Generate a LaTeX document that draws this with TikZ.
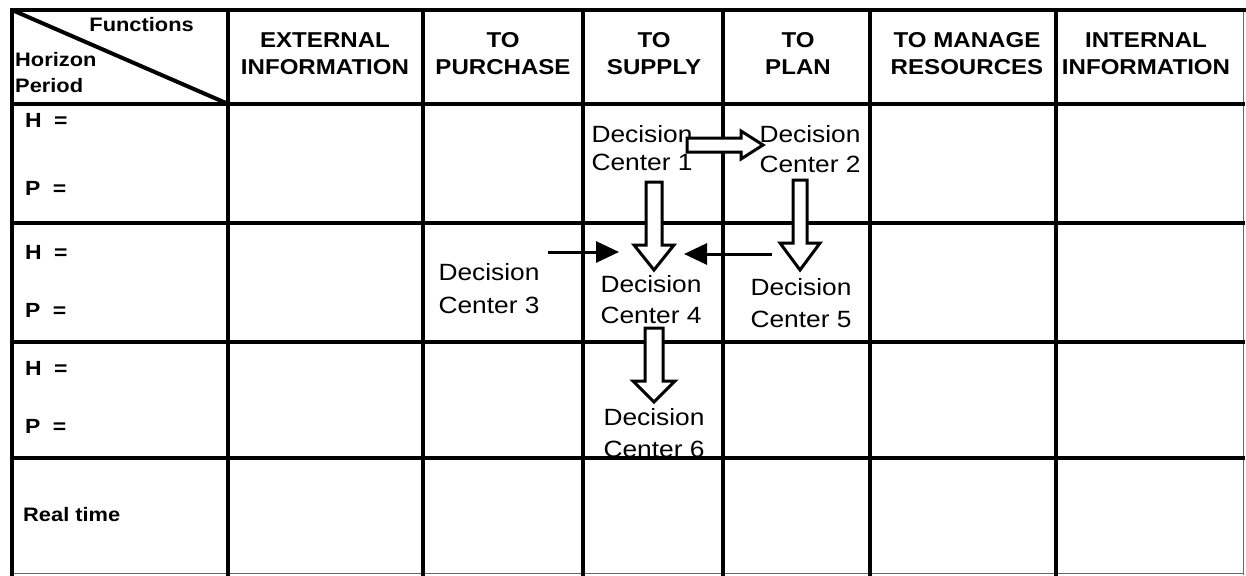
\documentclass[tikz,border=0pt]{standalone}
\usepackage{fontspec}
\setmainfont{Liberation Sans}[FakeStretch=1.12]
\usetikzlibrary{calc,arrows.meta}

% outlined block arrow from #1 to #2: shaft half-width #3, head half-width #4, head length #5
\newcommand\hollowarrow[5]{%
  \coordinate (hb) at ($(#2)!#5!(#1)$);
  \draw[hollow] ($(#1)!#3!90:(#2)$) -- ($(hb)!#3!90:(#2)$) -- ($(hb)!#4!90:(#2)$) -- (#2)
    -- ($(hb)!#4!-90:(#2)$) -- ($(hb)!#3!-90:(#2)$) -- ($(#1)!#3!-90:(#2)$) -- cycle;
}

\begin{document}
\begin{tikzpicture}[x=1pt,y=-1pt,
  rule/.style={line width=3.6pt,line cap=rect},
  thinrule/.style={line width=1pt,black!60},
  hollow/.style={draw=black,fill=white,line width=3pt},
  solidarrow/.style={line width=3pt,-{Triangle[length=23pt,width=21pt]}},
  head/.style={font=\bfseries\fontsize{21.5}{27}\selectfont,align=center,anchor=base,inner sep=0pt},
  corner/.style={font=\bfseries\fontsize{19.5}{26}\selectfont,anchor=base west,inner sep=0pt},
  rowlab/.style={font=\bfseries\fontsize{20.5}{22}\selectfont,anchor=base west,inner sep=0pt},
  dc/.style={font=\fontsize{23.5}{31}\selectfont,align=center,anchor=base,inner sep=0pt}]

\useasboundingbox (0,0) rectangle (1246,575);

% table rules
\draw[thinrule] (1243,10) -- (1243,575);
\draw[thinrule] (12,573) -- (1243,573);
\draw[rule] (12,10) -- (1246,10);
\foreach \x in {12,228,423,583,723,870,1056}
  \draw[rule] (\x,10) -- (\x,575);
\foreach \y in {104,223,342,458}
  \draw[rule] (12,\y) -- (1243,\y);
\draw[line width=4pt] (12,10) -- (226,103);

% header cell
\node[corner,anchor=base east] (fn) at (194,32) {Functions};
\node[corner] (hz) at (15,67) {Horizon};
\node[corner] (pd) at (15,93) {Period};

% column headings (anchored on the baseline of the lower line)
\node[head] (c1) at (325,75) {EXTERNAL\\INFORMATION};
\node[head] (c2) at (503,75) {TO\\PURCHASE};
\node[head] (c3) at (654,75) {TO\\SUPPLY};
\node[head] (c4) at (798,75) {TO\\PLAN};
\node[head] (c5) at (967,75) {TO MANAGE\\RESOURCES};
\node[head] (c6) at (1146,75) {INTERNAL\\INFORMATION};

% row headings
\node[rowlab] (h1) at (25,128) {H\hspace{0.6em}=};
\node[rowlab] (p1) at (25,195) {P\hspace{0.6em}=};
\node[rowlab] (h2) at (25,259) {H\hspace{0.6em}=};
\node[rowlab] (p2) at (25,317) {P\hspace{0.6em}=};
\node[rowlab] (h3) at (25,375) {H\hspace{0.6em}=};
\node[rowlab] (p3) at (25,433) {P\hspace{0.6em}=};
\node[rowlab,font=\bfseries\fontsize{19.5}{22}\selectfont] (rt) at (23,521) {Real time};

% decision centres (anchored on the baseline of the lower line)
\node[dc,font=\fontsize{23.5}{28}\selectfont] (dc1) at (642,170) {Decision\\Center 1};
\node[dc,font=\fontsize{23.5}{30}\selectfont] (dc2) at (810,172) {Decision\\Center 2};
\node[dc,font=\fontsize{23.5}{33}\selectfont] (dc3) at (489,313) {Decision\\Center 3};
\node[dc] (dc4) at (651,323) {Decision\\Center 4};
\node[dc,font=\fontsize{23.5}{32}\selectfont] (dc5) at (801,327) {Decision\\Center 5};
\node[dc,font=\fontsize{23.5}{32}\selectfont] (dc6) at (654,457) {Decision\\Center 6};

% flows between decision centres
\coordinate (a12) at (687,145);  \coordinate (b12) at (763,145);
\coordinate (a14) at (654,182);  \coordinate (b14) at (654,270);
\coordinate (a25) at (800,180);  \coordinate (b25) at (800,270);
\coordinate (a46) at (654,328);  \coordinate (b46) at (654,402);
\hollowarrow{a12}{b12}{7pt}{14pt}{22pt}
\hollowarrow{a14}{b14}{8pt}{20pt}{25pt}
\hollowarrow{a25}{b25}{7pt}{20pt}{27pt}
\hollowarrow{a46}{b46}{9pt}{21pt}{21pt}

\coordinate (a34) at (548,252);  \coordinate (b34) at (619,252);
\coordinate (a54) at (772,254);  \coordinate (b54) at (684,254);
\draw[solidarrow] (a34) -- (b34);
\draw[solidarrow] (a54) -- (b54);
\end{tikzpicture}
\end{document}
